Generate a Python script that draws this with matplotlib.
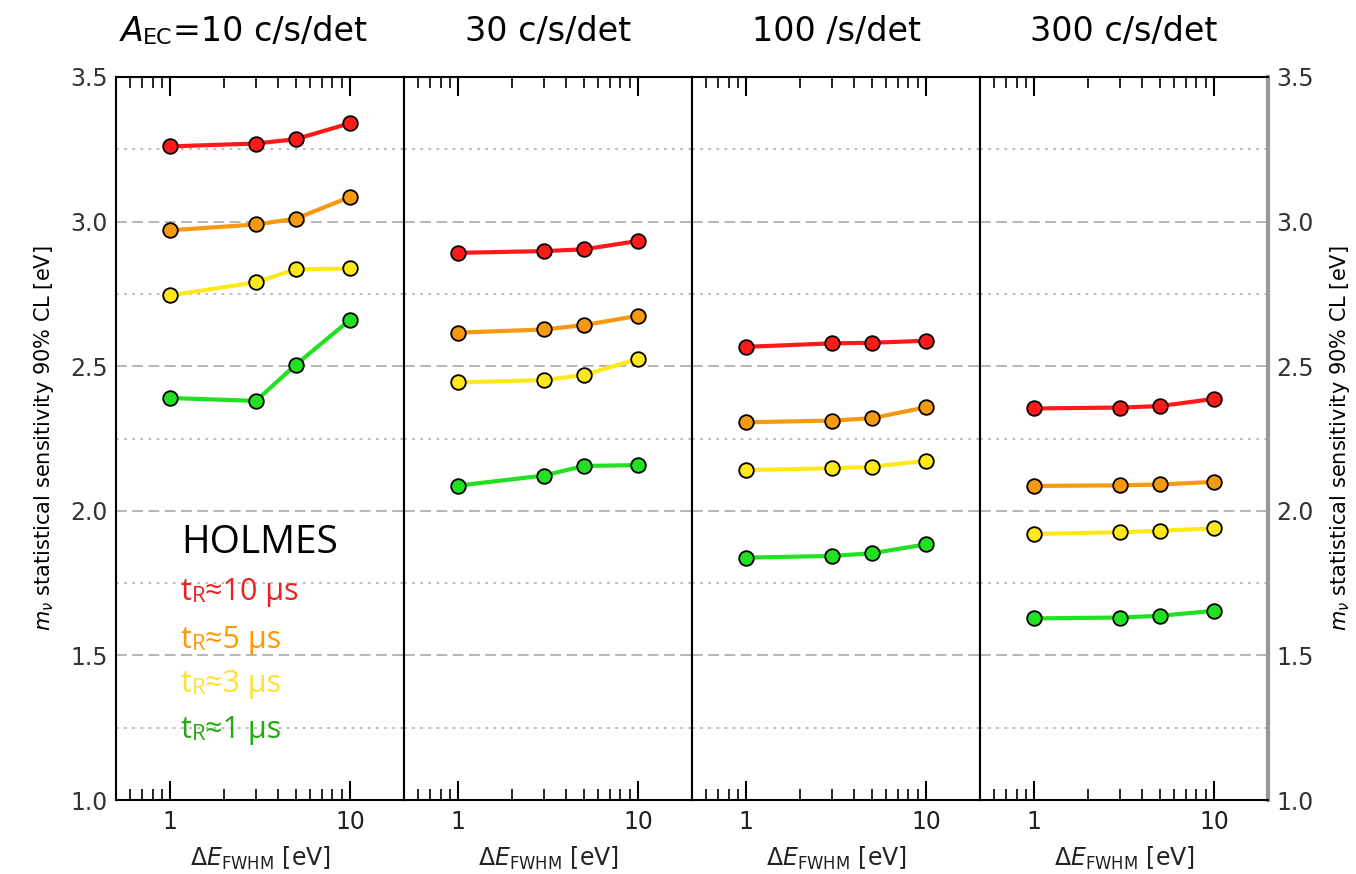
import matplotlib.pyplot as plt
from matplotlib.ticker import LogLocator, NullFormatter, FixedLocator

# energy resolution values (eV)
fwhm = [1, 3, 5, 10]
rates = ['10', '30', '100', '300']
titles = ['=10 c/s/det', '30 c/s/det', '100 /s/det', '300 c/s/det']
rise_times = ['10', '5', '3', '1']

# sensitivity per panel, per rise time (10, 5, 3, 1 us)
sens = {
    '10': [[3.26, 3.27, 3.285, 3.34],
           [2.97, 2.99, 3.01, 3.085],
           [2.745, 2.79, 2.835, 2.838],
           [2.39, 2.38, 2.505, 2.66]],
    '30': [[2.892, 2.898, 2.904, 2.933],
           [2.616, 2.627, 2.642, 2.674],
           [2.444, 2.452, 2.469, 2.525],
           [2.087, 2.122, 2.155, 2.158]],
    '100': [[2.567, 2.579, 2.581, 2.588],
            [2.306, 2.312, 2.32, 2.358],
            [2.141, 2.147, 2.152, 2.173],
            [1.838, 1.844, 1.853, 1.884]],
    '300': [[2.354, 2.357, 2.362, 2.387],
            [2.086, 2.088, 2.091, 2.10],
            [1.92, 1.926, 1.931, 1.939],
            [1.628, 1.631, 1.637, 1.654]],
}

line_colors = ['#ff1a1a', '#f59a10', '#ffe81a', '#22e022']
text_colors = ['#ee2020', '#ff9900', '#ffe030', '#22aa10']

fig = plt.figure(figsize=(13.56, 8.74), dpi=100)
left, width = 116 / 1356, 288 / 1356
bottom, height = 74 / 874, 723 / 874

axes = []
for i, r in enumerate(rates):
    ax = fig.add_axes([left + i * width, bottom, width, height])
    axes.append(ax)
    for j in range(4):
        ax.plot(fwhm, sens[r][j], '-', color=line_colors[j], lw=3, zorder=3)
        ax.plot(fwhm, sens[r][j], 'o', ms=10.5, mfc=line_colors[j], mec='black',
                mew=1.3, zorder=4)
    ax.set_xscale('log')
    ax.set_xlim(0.5, 20)
    ax.set_ylim(1.0, 3.5)
    for v in [1.5, 2.0, 2.5, 3.0]:
        ax.axhline(v, color='#b0b0b0', ls=(0, (6, 3)), lw=1.3, zorder=1)
    for v in [1.25, 1.75, 2.25, 2.75, 3.25]:
        ax.axhline(v, color='#b8b8b8', ls=(0, (1.5, 3)), lw=1.3, zorder=1)
    ax.xaxis.set_major_locator(FixedLocator([1, 10]))
    ax.set_xticklabels(['1', '10'], fontsize=17, color='#222222')
    ax.xaxis.set_minor_locator(LogLocator(base=10, subs=range(2, 10)))
    ax.xaxis.set_minor_formatter(NullFormatter())
    ax.tick_params(axis='x', which='major', direction='in', length=14, width=1.5,
                   top=True, pad=7)
    ax.tick_params(axis='x', which='minor', direction='in', length=8, width=1.2,
                   top=True)
    ax.yaxis.set_major_locator(FixedLocator([1.0, 1.5, 2.0, 2.5, 3.0, 3.5]))
    ax.tick_params(axis='y', length=0, labelsize=17, labelcolor='#333333')
    ax.set_yticklabels(['1.0', '1.5', '2.0', '2.5', '3.0', '3.5'])
    if i == 0:
        ax.tick_params(axis='y', labelleft=True, pad=6)
    elif i == 3:
        ax.tick_params(axis='y', labelleft=False, labelright=True, pad=6)
    else:
        ax.tick_params(axis='y', labelleft=False)
    for s in ax.spines.values():
        s.set_linewidth(1.5)
    ax.set_xlabel(r'$\Delta E_{\mathrm{FWHM}}$ [eV]', fontsize=17, color='#222222',
                  labelpad=8)
    if i > 0:
        ax.text(0.5, 1.05, titles[i], transform=ax.transAxes, fontsize=24,
                ha='center', va='baseline')

axes[3].spines['right'].set_color('#999999')
axes[3].spines['right'].set_linewidth(3)

ylab = r'$m_\nu$ statistical sensitivity 90% CL [eV]'
axes[0].set_ylabel(ylab, fontsize=15, labelpad=10)
axes[3].yaxis.set_label_position('right')
axes[3].set_ylabel(ylab, fontsize=15, labelpad=10)

# first panel title: italic A, small EC, then the rest
ax0 = axes[0]
t1 = ax0.text(0.015, 1.05, 'A', transform=ax0.transAxes, fontsize=24,
              style='italic', ha='left', va='baseline')
t2 = ax0.annotate('EC', xy=(1, 0), xycoords=t1, fontsize=16, ha='left',
                  va='bottom')
ax0.annotate(titles[0], xy=(1, 0), xycoords=t2, fontsize=24, ha='left',
             va='bottom')

# HOLMES label block
ax0.text(0.225, 0.342, 'HOLMES', transform=ax0.transAxes, fontsize=28,
         family='Open Sans', va='baseline')
ys = [0.277, 0.21, 0.149, 0.086]
for j, rt in enumerate(rise_times):
    a = ax0.text(0.225, ys[j], 't', transform=ax0.transAxes, fontsize=22,
                 family='Open Sans', color=text_colors[j], va='baseline')
    b = ax0.annotate('R', xy=(1, 0), xycoords=a, fontsize=16,
                     family='Open Sans', color=text_colors[j], va='bottom')
    ax0.annotate('\u2248' + rt + ' \u00b5s', xy=(1, 0), xycoords=b, fontsize=22,
                 family=['Open Sans', 'DejaVu Sans'], color=text_colors[j],
                 va='bottom')

fig.savefig('out.png', dpi=100)
